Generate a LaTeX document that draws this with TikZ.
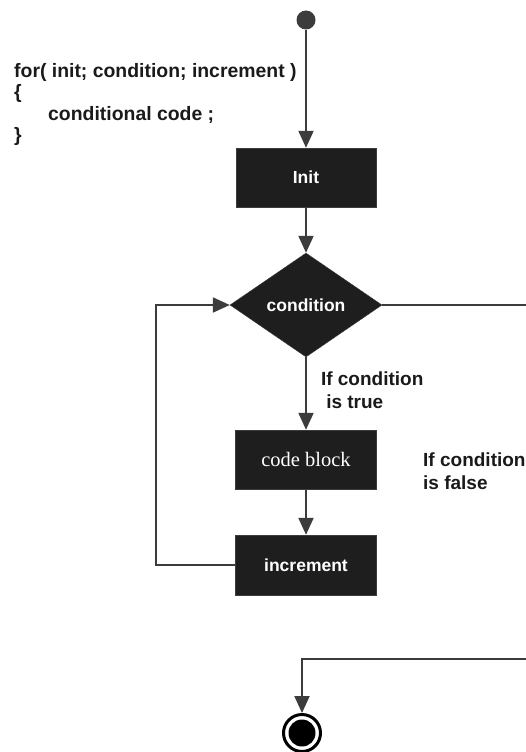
\documentclass[tikz,border=0pt]{standalone}
\usepackage{fontspec}
\setmainfont{Liberation Sans}
\newfontfamily\blockfont{Liberation Serif}
\usetikzlibrary{arrows.meta,positioning,shapes.geometric,calc}
\definecolor{boxfill}{HTML}{1E1E1E}
\definecolor{wire}{HTML}{3C3C3C}
\definecolor{ink}{HTML}{1A1A1A}

\tikzset{
  flowbox/.style={draw=wire, fill=boxfill, text=white, minimum width=141pt,
    minimum height=59pt, inner sep=0pt, font=\bfseries\fontsize{17.5}{20}\selectfont},
  decision/.style={diamond, draw=wire, fill=boxfill, text=white, minimum width=152pt,
    minimum height=104pt, inner sep=0pt, font=\bfseries\fontsize{17.5}{20}\selectfont},
  flow/.style={draw=wire, line width=2pt, -{Triangle[length=17pt,width=15pt]}},
  plain/.style={draw=wire, line width=2pt},
  note/.style={text=ink, font=\bfseries\fontsize{19}{23}\selectfont, align=left, inner sep=0pt}
}

\begin{document}
\begin{tikzpicture}[x=1pt, y=-1pt]
  \useasboundingbox (0,0) rectangle (526,752);

  % code fragment
  \node[note, anchor=north west, font=\bfseries\fontsize{19.4}{21.5}\selectfont] (code) at (14,63)
    {for( init; condition; increment )\\
     \{\\
     \hspace*{34pt}conditional code ;\\
     \}};

  % flow nodes
  \node[circle, fill=wire, minimum size=19pt, inner sep=0pt] (start) at (306,20) {};
  \node[flowbox, minimum width=140pt] (init) at (306,177.5) {Init};
  \node[decision] (cond) at (306,305) {condition};
  \node[flowbox, font=\blockfont\fontsize{20.5}{22}\selectfont] (block) at (306,459.5) {code block};
  \node[flowbox, minimum height=60pt] (incr) at (306,565) {increment};
  \node[circle, draw=black, line width=3pt, minimum size=37pt, inner sep=0pt] (stop) at (302,733) {};
  \node[circle, fill=black, minimum size=27pt, inner sep=0pt] (stopdot) at (stop) {};

  % off-page turn points
  \coordinate (falseout) at (526,305);
  \coordinate (falsein) at (526,659);

  % connectors
  \draw[flow] (start) -- (init);
  \draw[flow] (init) -- (cond);
  \draw[flow] (cond) -- (block)
    node[note, pos=0.45, anchor=west, xshift=14pt] (truelbl) {If condition\\\ is true};
  \draw[flow] (block) -- (incr);
  \draw[flow] (incr.west) -- ++(-79,0) |- (cond.west);
  \draw[plain] (cond.east) -- (falseout);
  \draw[flow] (falsein) -| (stop.north);

  \node[note, anchor=north west] (falselbl) at (423,453) {If condition\\is false};
\end{tikzpicture}
\end{document}
